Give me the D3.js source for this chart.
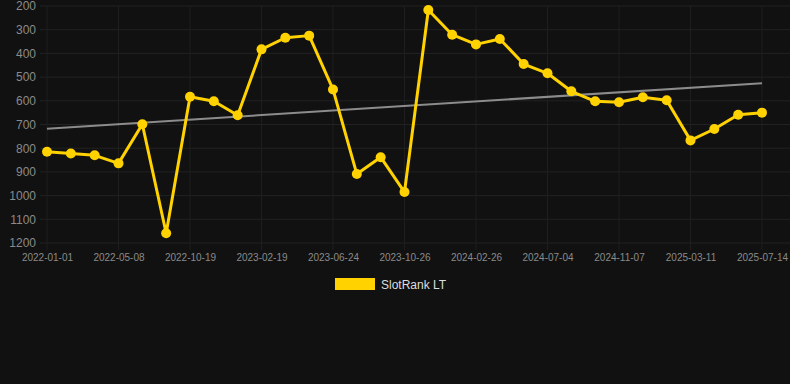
<!DOCTYPE html>
<html>
<head>
<meta charset="utf-8">
<script src="https://cdn.jsdelivr.net/npm/d3@7"></script>
<style>
  html, body { margin: 0; padding: 0; background: #111111; }
  #chart { width: 790px; height: 384px; }
  text { font-family: Arial, "Liberation Sans", sans-serif; }
</style>
</head>
<body>
<div id="chart"></div>
<script>
// category dates (only every 3rd one is labelled on the axis)
let dates = [
  '2022-01-01', '2022-02-12', '2022-03-26', '2022-05-08', '2022-06-21', '2022-09-05',
  '2022-10-19', '2022-11-30', '2023-01-08', '2023-02-19', '2023-04-02', '2023-05-13',
  '2023-06-24', '2023-08-05', '2023-09-15', '2023-10-26', '2023-12-07', '2024-01-16',
  '2024-02-26', '2024-04-10', '2024-05-22', '2024-07-04', '2024-08-15', '2024-09-26',
  '2024-11-07', '2024-12-19', '2025-01-29', '2025-03-11', '2025-04-22', '2025-06-02',
  '2025-07-14'
];
let rankValues = [
  815, 822, 830, 864, 699, 1159, 583, 602, 661, 383,
  334, 325, 552, 909, 838, 985, 217, 321, 362, 339,
  445, 484, 560, 602, 606, 585, 598, 767, 719, 659, 650
];
let yTicks = [200, 300, 400, 500, 600, 700, 800, 900, 1000, 1100, 1200];
let seriesName = 'SlotRank LT';

let width = 790, height = 384;
let margin = {top: 6, right: 28, bottom: 141, left: 47};

let svg = d3.select('#chart').append('svg')
  .attr('width', width).attr('height', height);

let xScale = d3.scalePoint()
  .domain(dates)
  .range([margin.left, width - margin.right]);

let yScale = d3.scaleLinear()
  .domain([200, 1200])
  .range([margin.top, height - margin.bottom]);

let labelDates = dates.filter((d, i) => i % 3 === 0);

// grid
let grid = svg.append('g').attr('class', 'grid');
grid.selectAll('.hgrid').data(yTicks).enter().append('line')
  .attr('class', 'hgrid')
  .attr('x1', margin.left - 7).attr('x2', width)
  .attr('y1', d => yScale(d)).attr('y2', d => yScale(d))
  .attr('stroke', '#222222').attr('stroke-width', 1);

grid.selectAll('.vgrid').data(labelDates).enter().append('line')
  .attr('class', 'vgrid')
  .attr('x1', d => xScale(d)).attr('x2', d => xScale(d))
  .attr('y1', margin.top).attr('y2', height - margin.bottom + 7)
  .attr('stroke', '#1e1e1e').attr('stroke-width', 1);

// axes
let yAxis = d3.axisLeft(yScale).tickValues(yTicks).tickFormat(d3.format('d'))
  .tickSize(0).tickPadding(11);
let yAxisG = svg.append('g')
  .attr('transform', 'translate(' + margin.left + ',0)')
  .call(yAxis);
yAxisG.select('.domain').remove();
yAxisG.selectAll('text')
  .attr('fill', '#8a8a8a')
  .style('font-size', '12px');

let xAxis = d3.axisBottom(xScale).tickValues(labelDates).tickSize(0).tickPadding(11);
let xAxisG = svg.append('g')
  .attr('transform', 'translate(0,' + (height - margin.bottom) + ')')
  .call(xAxis);
xAxisG.select('.domain').remove();
xAxisG.selectAll('text')
  .attr('fill', '#8a8a8a')
  .style('font-size', '10px');

// trend line (least squares over the series)
let n = rankValues.length;
let meanX = d3.mean(rankValues, (d, i) => i);
let meanY = d3.mean(rankValues);
let slope = d3.sum(rankValues, (d, i) => (i - meanX) * (d - meanY)) /
  d3.sum(rankValues, (d, i) => (i - meanX) * (i - meanX));
let intercept = meanY - slope * meanX;
let trend = [0, n - 1].map(i => ({date: dates[i], value: intercept + slope * i}));

svg.append('path')
  .datum(trend)
  .attr('d', d3.line().x(d => xScale(d.date)).y(d => yScale(d.value)))
  .attr('fill', 'none')
  .attr('stroke', '#8c8c8c')
  .attr('stroke-width', 2);

// series
let series = dates.map((d, i) => ({date: d, value: rankValues[i]}));
let line = d3.line()
  .x(d => xScale(d.date))
  .y(d => yScale(d.value));

svg.append('path')
  .datum(series)
  .attr('d', line)
  .attr('fill', 'none')
  .attr('stroke', '#ffd200')
  .attr('stroke-width', 3)
  .attr('stroke-linejoin', 'round');

svg.selectAll('.dot').data(series).enter().append('circle')
  .attr('class', 'dot')
  .attr('cx', d => xScale(d.date))
  .attr('cy', d => yScale(d.value))
  .attr('r', 5)
  .attr('fill', '#ffd200');

// legend
let legend = svg.append('g').attr('transform', 'translate(335,278)');
legend.append('rect')
  .attr('width', 40).attr('height', 12)
  .attr('fill', '#ffd200');
legend.append('text')
  .attr('x', 46).attr('y', 11)
  .attr('fill', '#dddddd')
  .style('font-size', '12px')
  .text(seriesName);
</script>
</body>
</html>
